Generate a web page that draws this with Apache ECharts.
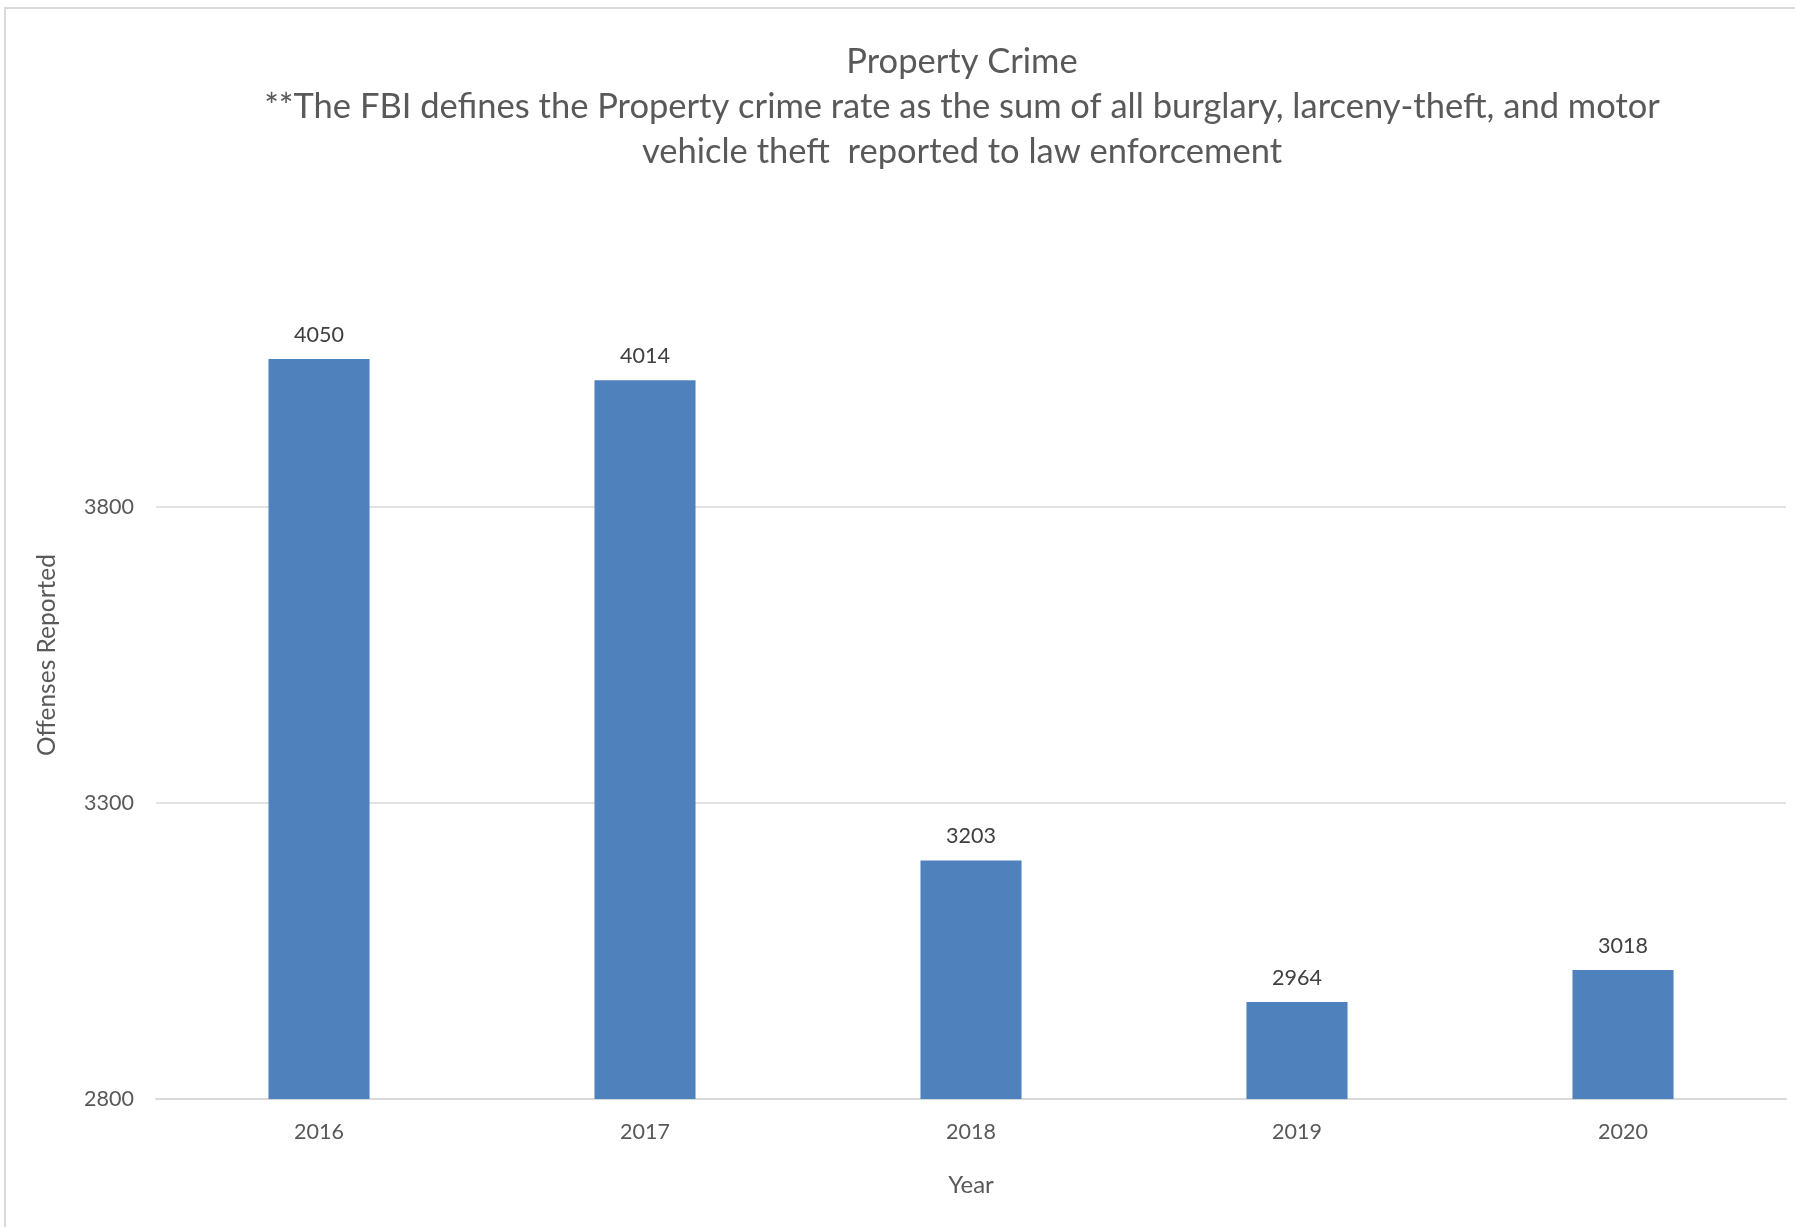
<!DOCTYPE html>
<html>
<head>
<meta charset="utf-8">
<script src="https://cdn.jsdelivr.net/npm/echarts@6/dist/echarts.min.js"></script>
<style>
html,body{margin:0;padding:0;background:#fff;}
#chart{width:1795px;height:1227px;}
</style>
</head>
<body>
<div id="chart"></div>
<script>
const years = ['2016', '2017', '2018', '2019', '2020'];
const offenses = [4050, 4014, 3203, 2964, 3018];
const titleLines = [
  'Property Crime',
  '**The FBI defines the Property crime rate as the sum of all burglary, larceny-theft, and motor',
  'vehicle theft  reported to law enforcement'
];
const yAxisTitle = 'Offenses Reported';
const xAxisTitle = 'Year';

const FONT = 'Lato, "Open Sans", sans-serif';
const chart = echarts.init(document.getElementById('chart'));
chart.setOption({
  animation: false,
  backgroundColor: '#ffffff',
  graphic: [
    { type: 'rect', shape: { x: 5, y: 8, width: 1900, height: 1400 }, style: { fill: 'none', stroke: '#d9d9d9', lineWidth: 2 }, silent: true },
    ...titleLines.map((t, i) => ({
      type: 'text', x: 962, y: 62 + i * 45,
      style: { text: t, fill: '#595959', font: '34.5px ' + FONT, textAlign: 'center', textVerticalAlign: 'middle' }
    }))
  ],
  grid: { left: 156, right: 9, top: 211, bottom: 128, containLabel: false },
  xAxis: {
    type: 'category',
    data: years,
    axisLine: { show: true, lineStyle: { color: '#d9d9d9', width: 2 } },
    axisTick: { show: false },
    axisLabel: { color: '#595959', fontSize: 21.5, fontFamily: FONT, margin: 22 },
    name: xAxisTitle,
    nameLocation: 'middle',
    nameGap: 74,
    nameTextStyle: { color: '#595959', fontSize: 24, fontFamily: FONT }
  },
  yAxis: {
    type: 'value',
    min: 2800,
    max: 4300,
    interval: 500,
    axisLine: { show: false },
    axisTick: { show: false },
    axisLabel: { color: '#595959', fontSize: 21.5, fontFamily: FONT, margin: 22, showMaxLabel: false, formatter: v => String(v) },
    splitLine: { lineStyle: { color: ['#d9d9d9', '#d9d9d9', '#d9d9d9', 'rgba(0,0,0,0)'], width: 1.5 } },
    name: yAxisTitle,
    nameLocation: 'middle',
    nameGap: 96,
    nameRotate: 90,
    nameTextStyle: { color: '#595959', fontSize: 24.5, fontFamily: FONT }
  },
  series: [{
    type: 'bar',
    data: offenses,
    barWidth: '31%',
    itemStyle: { color: '#4f81bd' },
    label: { show: true, position: 'top', distance: 13, color: '#404040', fontSize: 21.5, fontFamily: FONT }
  }]
});
</script>
</body>
</html>
